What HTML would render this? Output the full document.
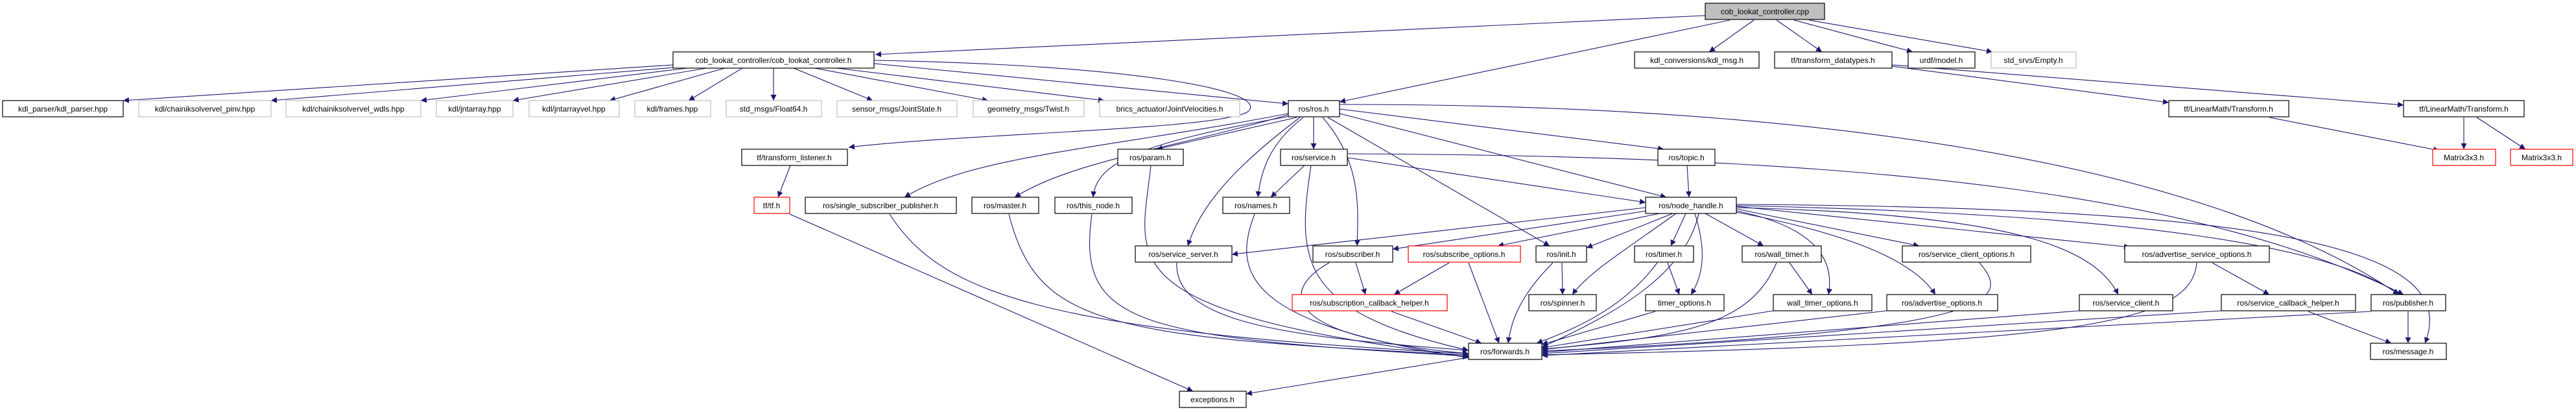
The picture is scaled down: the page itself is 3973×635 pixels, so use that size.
<!DOCTYPE html>
<html><head><meta charset="utf-8"><style>
html,body{margin:0;padding:0;background:#fff;}
svg{display:block;}
text{font-family:"Liberation Sans",sans-serif;font-size:12px;fill:#000;text-anchor:middle;}
.e{fill:none;stroke:#191970;stroke-width:1.1;marker-end:url(#a);}
.b{fill:#fff;stroke:#000;stroke-width:1.2;}
.g{fill:#fff;stroke:#bfbfbf;stroke-width:1.2;}
.r{fill:#fff;stroke:#ff0000;stroke-width:1.2;}
</style></head><body>
<svg width="3973" height="635" viewBox="0 0 3973 635" xmlns="http://www.w3.org/2000/svg">
<defs><marker id="a" viewBox="0 0 10 10" refX="10" refY="5" markerWidth="9" markerHeight="9" markerUnits="userSpaceOnUse" orient="auto"><path d="M0,0 L10,5 L0,10 z" fill="#191970"/></marker></defs>
<g>
<path class="e" d="M2630,24 L1350,84"/>
<path class="e" d="M2668,31 L2066,157"/>
<path class="e" d="M2705,31 L2636,80"/>
<path class="e" d="M2740,31 L2810,80"/>
<path class="e" d="M2767,31 L2950,80"/>
<path class="e" d="M2790,31 L3073,80"/>
<path class="e" d="M1038,100 L190,155"/>
<path class="e" d="M1040,104 L418,155"/>
<path class="e" d="M1060,105 L649,155"/>
<path class="e" d="M1090,105 L791,155"/>
<path class="e" d="M1118,105 L940,155"/>
<path class="e" d="M1145,105 L1062,155"/>
<path class="e" d="M1193,105 L1193,155"/>
<path class="e" d="M1224,105 L1346,155"/>
<path class="e" d="M1256,105 L1524,155"/>
<path class="e" d="M1290,105 L1703,155"/>
<path class="e" d="M1348,98 L1987,160"/>
<path class="e" d="M1348,93 C1750,100 1960,140 1925,172 C1880,200 1500,205 1309,227"/>
<path class="e" d="M2918,102 L3345,158"/>
<path class="e" d="M2918,100 L3707,162"/>
<path class="e" d="M3500,181 L3762,232"/>
<path class="e" d="M3800,181 L3800,230"/>
<path class="e" d="M3820,181 L3895,230"/>
<path class="e" d="M1219,255 L1200,304"/>
<path class="e" d="M1218,330 L1840,603"/>
<path class="e" d="M1987,175 C1700,230 1500,240 1395,304"/>
<path class="e" d="M1987,177 C1800,230 1650,250 1565,304"/>
<path class="e" d="M1990,179 C1760,220 1690,250 1686,304"/>
<path class="e" d="M2000,181 L1784,230"/>
<path class="e" d="M2026,181 L2026,230"/>
<path class="e" d="M2010,181 C1960,220 1945,260 1940,304"/>
<path class="e" d="M2005,181 C1900,260 1850,320 1832,379"/>
<path class="e" d="M2040,181 C2100,250 2095,320 2093,379"/>
<path class="e" d="M2048,181 L2390,379"/>
<path class="e" d="M2066,175 L2570,304"/>
<path class="e" d="M2066,168 L2566,230"/>
<path class="e" d="M2066,161 C2800,160 3400,250 3700,454"/>
<path class="e" d="M2012,255 L1960,304"/>
<path class="e" d="M2078,243 L2538,312"/>
<path class="e" d="M2022,255 C2000,400 2000,480 2265,540"/>
<path class="e" d="M2078,237 C2900,240 3400,300 3707,454"/>
<path class="e" d="M2602,255 L2605,304"/>
<path class="e" d="M2538,320 L1900,392"/>
<path class="e" d="M2540,325 L2148,384"/>
<path class="e" d="M2560,329 L2310,379"/>
<path class="e" d="M2580,329 L2447,382"/>
<path class="e" d="M2585,329 C2500,390 2450,420 2425,454"/>
<path class="e" d="M2600,329 L2577,379"/>
<path class="e" d="M2614,329 C2630,380 2630,420 2608,454"/>
<path class="e" d="M2630,329 L2720,379"/>
<path class="e" d="M2678,325 C2800,350 2830,400 2820,454"/>
<path class="e" d="M2678,327 C2850,360 2950,400 2985,454"/>
<path class="e" d="M2678,322 L2960,379"/>
<path class="e" d="M2678,318 L3285,381"/>
<path class="e" d="M2678,320 C3100,330 3230,380 3267,454"/>
<path class="e" d="M2678,317 C3300,330 3600,380 3700,454"/>
<path class="e" d="M2678,315 C3500,320 3800,380 3740,529"/>
<path class="e" d="M2620,329 C2600,420 2500,480 2378,535"/>
<path class="e" d="M1815,405 C1810,500 2000,520 2265,540"/>
<path class="e" d="M2091,405 L2106,454"/>
<path class="e" d="M2050,405 C1970,450 1980,520 2265,545"/>
<path class="e" d="M2235,405 L2150,454"/>
<path class="e" d="M2265,405 L2312,529"/>
<path class="e" d="M2409,405 L2410,454"/>
<path class="e" d="M2395,405 C2340,460 2330,500 2326,529"/>
<path class="e" d="M2572,405 L2590,454"/>
<path class="e" d="M2556,405 C2500,480 2420,510 2370,529"/>
<path class="e" d="M2760,405 L2795,454"/>
<path class="e" d="M2740,405 C2700,500 2600,520 2378,538"/>
<path class="e" d="M3053,405 C3100,460 3100,510 2378,541"/>
<path class="e" d="M3388,405 C3380,500 3200,530 2378,547"/>
<path class="e" d="M3412,405 L3500,454"/>
<path class="e" d="M2146,480 L2285,529"/>
<path class="e" d="M2553,480 L2378,531"/>
<path class="e" d="M2735,479 L2378,536"/>
<path class="e" d="M2910,479 L2378,539"/>
<path class="e" d="M3207,479 L2378,543"/>
<path class="e" d="M3426,479 L2378,545"/>
<path class="e" d="M3560,480 L3688,529"/>
<path class="e" d="M3657,480 L2378,548"/>
<path class="e" d="M3714,480 L3714,529"/>
<path class="e" d="M1372,330 C1450,450 1600,510 2265,545"/>
<path class="e" d="M1556,330 C1600,500 1700,520 2265,547"/>
<path class="e" d="M1684,330 C1660,500 1750,520 2265,549"/>
<path class="e" d="M1775,255 C1760,400 1700,480 2265,550"/>
<path class="e" d="M1935,330 C1900,420 1920,500 2265,551"/>
<path class="e" d="M2265,551 L1922,607"/>
</g>
<g>
<rect x="2630" y="5" width="184" height="25" fill="#bfbfbf" stroke="#000" stroke-width="1.2"/><text x="2722" y="22">cob_lookat_controller.cpp</text>
<rect class="b" x="1038" y="80" width="310" height="25"/><text x="1193" y="97">cob_lookat_controller/cob_lookat_controller.h</text>
<rect class="b" x="2521" y="80" width="192" height="25"/><text x="2617" y="97">kdl_conversions/kdl_msg.h</text>
<rect class="b" x="2737" y="80" width="181" height="25"/><text x="2827" y="97">tf/transform_datatypes.h</text>
<rect class="b" x="2943" y="80" width="103" height="25"/><text x="2994" y="97">urdf/model.h</text>
<rect class="g" x="3071" y="80" width="131" height="25"/><text x="3136" y="97">std_srvs/Empty.h</text>

<rect class="b" x="4" y="155" width="186" height="25"/><text x="97" y="172">kdl_parser/kdl_parser.hpp</text>
<rect class="g" x="214" y="155" width="204" height="25"/><text x="316" y="172">kdl/chainiksolvervel_pinv.hpp</text>
<rect class="g" x="441" y="155" width="208" height="25"/><text x="545" y="172">kdl/chainiksolvervel_wdls.hpp</text>
<rect class="g" x="673" y="155" width="118" height="25"/><text x="732" y="172">kdl/jntarray.hpp</text>
<rect class="g" x="816" y="155" width="139" height="25"/><text x="885" y="172">kdl/jntarrayvel.hpp</text>
<rect class="g" x="979" y="155" width="117" height="25"/><text x="1037" y="172">kdl/frames.hpp</text>
<rect class="g" x="1120" y="155" width="147" height="25"/><text x="1193" y="172">std_msgs/Float64.h</text>
<rect class="g" x="1291" y="155" width="185" height="25"/><text x="1383" y="172">sensor_msgs/JointState.h</text>
<rect class="g" x="1501" y="155" width="171" height="25"/><text x="1586" y="172">geometry_msgs/Twist.h</text>
<rect class="g" x="1696" y="155" width="216" height="25"/><text x="1804" y="172">brics_actuator/JointVelocities.h</text>
<rect class="b" x="1987" y="155" width="79" height="25"/><text x="2026" y="172">ros/ros.h</text>
<rect class="b" x="3345" y="155" width="185" height="25"/><text x="3437" y="172">tf/LinearMath/Transform.h</text>
<rect class="b" x="3707" y="155" width="186" height="25"/><text x="3800" y="172">tf/LinearMath/Transform.h</text>

<rect class="b" x="1144" y="230" width="163" height="25"/><text x="1225" y="247">tf/transform_listener.h</text>
<rect class="b" x="1724" y="230" width="101" height="25"/><text x="1774" y="247">ros/param.h</text>
<rect class="b" x="1975" y="230" width="103" height="25"/><text x="2026" y="247">ros/service.h</text>
<rect class="b" x="2557" y="230" width="88" height="25"/><text x="2601" y="247">ros/topic.h</text>
<rect class="r" x="3752" y="230" width="97" height="25"/><text x="3800" y="247">Matrix3x3.h</text>
<rect class="r" x="3872" y="230" width="96" height="25"/><text x="3920" y="247">Matrix3x3.h</text>

<rect class="r" x="1163" y="304" width="55" height="25"/><text x="1190" y="321">tf/tf.h</text>
<rect class="b" x="1242" y="304" width="233" height="25"/><text x="1358" y="321">ros/single_subscriber_publisher.h</text>
<rect class="b" x="1499" y="304" width="103" height="25"/><text x="1550" y="321">ros/master.h</text>
<rect class="b" x="1627" y="304" width="119" height="25"/><text x="1686" y="321">ros/this_node.h</text>
<rect class="b" x="1886" y="304" width="103" height="25"/><text x="1937" y="321">ros/names.h</text>
<rect class="b" x="2538" y="304" width="140" height="25"/><text x="2608" y="321">ros/node_handle.h</text>

<rect class="b" x="1751" y="379" width="149" height="25"/><text x="1825" y="396">ros/service_server.h</text>
<rect class="b" x="2025" y="379" width="123" height="25"/><text x="2086" y="396">ros/subscriber.h</text>
<rect class="r" x="2172" y="379" width="173" height="25"/><text x="2258" y="396">ros/subscribe_options.h</text>
<rect class="b" x="2369" y="379" width="78" height="25"/><text x="2408" y="396">ros/init.h</text>
<rect class="b" x="2521" y="379" width="91" height="25"/><text x="2566" y="396">ros/timer.h</text>
<rect class="b" x="2687" y="379" width="122" height="25"/><text x="2748" y="396">ros/wall_timer.h</text>
<rect class="b" x="2934" y="379" width="198" height="25"/><text x="3033" y="396">ros/service_client_options.h</text>
<rect class="b" x="3277" y="379" width="223" height="25"/><text x="3388" y="396">ros/advertise_service_options.h</text>

<rect class="r" x="1993" y="454" width="239" height="25"/><text x="2112" y="471">ros/subscription_callback_helper.h</text>
<rect class="b" x="2358" y="454" width="104" height="25"/><text x="2410" y="471">ros/spinner.h</text>
<rect class="b" x="2538" y="454" width="121" height="25"/><text x="2598" y="471">timer_options.h</text>
<rect class="b" x="2735" y="454" width="152" height="25"/><text x="2811" y="471">wall_timer_options.h</text>
<rect class="b" x="2910" y="454" width="171" height="25"/><text x="2995" y="471">ros/advertise_options.h</text>
<rect class="b" x="3207" y="454" width="144" height="25"/><text x="3279" y="471">ros/service_client.h</text>
<rect class="b" x="3426" y="454" width="207" height="25"/><text x="3529" y="471">ros/service_callback_helper.h</text>
<rect class="b" x="3657" y="454" width="115" height="25"/><text x="3714" y="471">ros/publisher.h</text>

<rect class="b" x="2265" y="529" width="113" height="25"/><text x="2321" y="546">ros/forwards.h</text>
<rect class="b" x="3656" y="529" width="117" height="25"/><text x="3714" y="546">ros/message.h</text>
<rect class="b" x="1819" y="603" width="103" height="25"/><text x="1870" y="620">exceptions.h</text>
</g>
</svg>
</body></html>
